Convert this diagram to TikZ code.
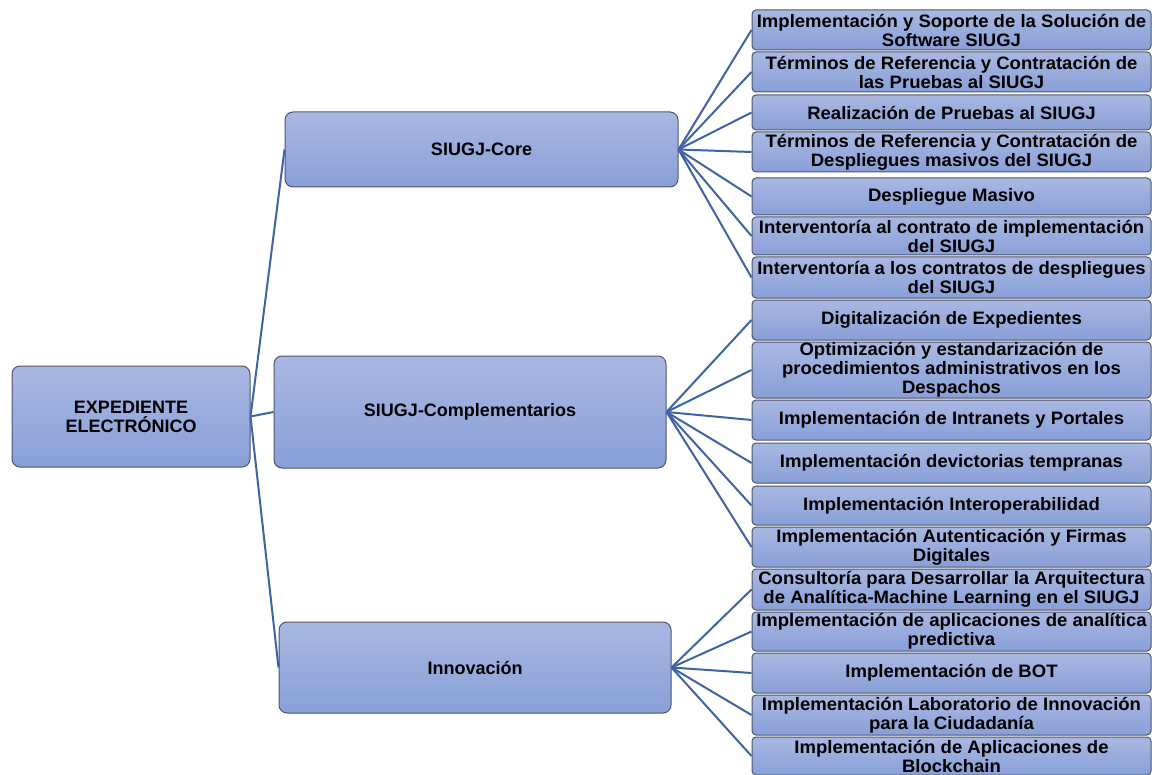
\documentclass[tikz,border=0pt]{standalone}
\usepackage{fontspec}
\setmainfont{Liberation Sans}
\newfontfamily\leaffont{Liberation Sans}[FakeStretch=1.03]
\definecolor{boxtop}{HTML}{A9B8E2}
\definecolor{boxbot}{HTML}{889FD8}
\definecolor{boxline}{HTML}{50546A}
\definecolor{conn}{HTML}{3F63A8}
\tikzset{
  every node/.style={font=\fontsize{18}{19}\selectfont\bfseries, text=black},
  midbox/.style={draw=boxline, line width=1pt, rounded corners=8pt, top color=boxtop, bottom color=boxbot, inner sep=0pt, align=center},
  leafbox/.style={draw=boxline, line width=1pt, rounded corners=4pt, top color=boxtop, bottom color=boxbot, inner sep=0pt, align=center, minimum width=399pt, font=\leaffont\fontsize{18}{19}\selectfont\bfseries},
  link/.style={draw=conn, line width=2pt}
}
\begin{document}
\begin{tikzpicture}[x=1pt,y=-1pt]
\useasboundingbox (0,0) rectangle (1155,775);
% root and middle
\node[midbox, minimum width=238pt, minimum height=101pt] (root) at (131,416.5) {EXPEDIENTE\\ELECTRÓNICO};
\node[midbox, minimum width=393pt, minimum height=75pt] (core) at (481.5,149.5) {SIUGJ-Core};
\node[midbox, minimum width=392pt, minimum height=112pt] (comp) at (470,412) {SIUGJ-Complementarios};
\node[midbox, minimum width=392pt, minimum height=91pt] (innov) at (475,667.5) {Innovación};
% leaves
\node[leafbox, minimum height=40pt] (a1) at (951.5,30) {Implementación y Soporte de la Solución de\\Software SIUGJ};
\node[leafbox, minimum height=40pt] (a2) at (951.5,72) {Términos de Referencia y Contratación de\\las Pruebas al SIUGJ};
\node[leafbox, minimum height=35pt] (a3) at (951.5,112.5) {Realización de Pruebas al SIUGJ};
\node[leafbox, minimum height=40pt] (a4) at (951.5,152) {Términos de Referencia y Contratación de\\Despliegues masivos del SIUGJ};
\node[leafbox, minimum height=37pt] (a5) at (951.5,196.5) {Despliegue Masivo};
\node[leafbox, minimum height=38pt] (a6) at (951.5,236) {Interventoría al contrato de implementación\\del SIUGJ};
\node[leafbox, minimum height=41pt] (a7) at (951.5,277.5) {Interventoría a los contratos de despliegues\\del SIUGJ};
\node[leafbox, minimum height=40pt] (b1) at (951.5,320) {Digitalización de Expedientes};
\node[leafbox, minimum height=56pt] (b2) at (951.5,370) {Optimización y estandarización de\\procedimientos administrativos en los\\Despachos};
\node[leafbox, minimum height=40pt] (b3) at (951.5,420) {Implementación de Intranets y Portales};
\node[leafbox, minimum height=40pt] (b4) at (951.5,463) {Implementación devictorias tempranas};
\node[leafbox, minimum height=39pt] (b5) at (951.5,505.5) {Implementación Interoperabilidad};
\node[leafbox, minimum height=40pt] (b6) at (951.5,547) {Implementación Autenticación y Firmas\\Digitales};
\node[leafbox, minimum height=41pt] (c1) at (951.5,589.5) {Consultoría para Desarrollar la Arquitectura\\de Analítica-Machine Learning en el SIUGJ};
\node[leafbox, minimum height=39pt] (c2) at (951.5,631.5) {Implementación de aplicaciones de analítica\\predictiva};
\node[leafbox, minimum height=40pt] (c3) at (951.5,673) {Implementación de BOT};
\node[leafbox, minimum height=40pt] (c4) at (951.5,715) {Implementación Laboratorio de Innovación\\para la Ciudadanía};
\node[leafbox, minimum height=38pt] (c5) at (951.5,756) {Implementación de Aplicaciones de\\Blockchain};
% connectors
\foreach \m in {core,comp,innov} \draw[link] (root.east) -- (\m.west);
\foreach \l in {a1,a2,a3,a4,a5,a6,a7} \draw[link] (core.east) -- (\l.west);
\foreach \l in {b1,b2,b3,b4,b5,b6} \draw[link] (comp.east) -- (\l.west);
\foreach \l in {c1,c2,c3,c4,c5} \draw[link] (innov.east) -- (\l.west);
\end{tikzpicture}
\end{document}
